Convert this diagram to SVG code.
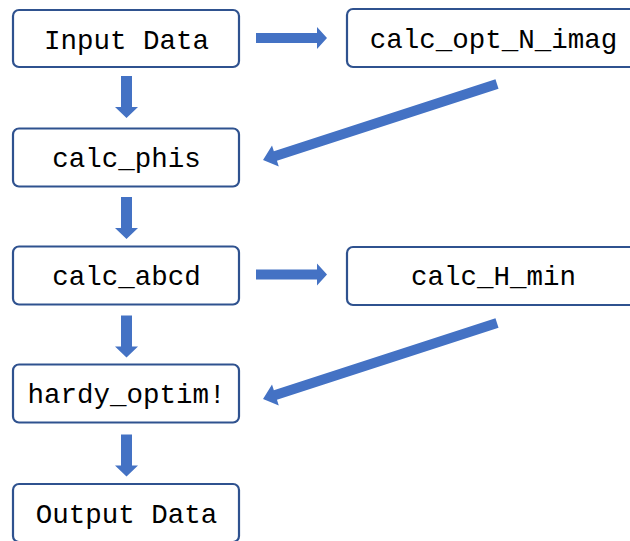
<svg xmlns="http://www.w3.org/2000/svg" width="630" height="541" viewBox="0 0 630 541">
<style>
.box{fill:#ffffff;stroke:#2F528F;stroke-width:2.2}
.lbl{font-family:"Liberation Mono","DejaVu Sans Mono",monospace;font-size:27.5px;fill:#000;text-anchor:middle}
.arr{fill:#4472C4}
</style>
<defs>
<polygon id="harrow" points="0,-5 61,-5 61,-11 71,0 61,11 61,5 0,5"/>
<polygon id="varrow" points="-5.5,0 5.5,0 5.5,31 11.5,31 0,42 -11.5,31 -5.5,31"/>
<polygon id="darrow" points="0,-5 233,-5 233,-11 246,0 233,11 233,5 0,5"/>
</defs>
<rect width="630" height="541" fill="#ffffff"/>
<g id="connectors" class="arr">
<use href="#harrow" x="256" y="38"/>
<use href="#harrow" x="256" y="274.5"/>
<use href="#varrow" x="126.5" y="76"/>
<use href="#varrow" x="126.5" y="197"/>
<use href="#varrow" x="126.5" y="315.5"/>
<use href="#varrow" x="126.5" y="434.5"/>
<use href="#darrow" transform="translate(497,84) rotate(162)"/>
<use href="#darrow" transform="translate(497,323) rotate(162)"/>
</g>
<g id="input-data"><rect class="box" x="13" y="10" width="226" height="57" rx="6"/><text class="lbl" x="126.5" y="49">Input Data</text></g>
<g id="calc-opt-n-imag"><rect class="box" x="347" y="9" width="292" height="58" rx="6"/><text class="lbl" x="493.5" y="48">calc_opt_N_imag</text></g>
<g id="calc-phis"><rect class="box" x="13" y="128.5" width="226" height="58" rx="6"/><text class="lbl" x="126.5" y="167">calc_phis</text></g>
<g id="calc-abcd"><rect class="box" x="13" y="246.5" width="226" height="58" rx="6"/><text class="lbl" x="126.5" y="285">calc_abcd</text></g>
<g id="calc-h-min"><rect class="box" x="347" y="247" width="292" height="58" rx="6"/><text class="lbl" x="493.5" y="285">calc_H_min</text></g>
<g id="hardy-optim"><rect class="box" x="13" y="364.5" width="226" height="58" rx="6"/><text class="lbl" x="126.5" y="403">hardy_optim!</text></g>
<g id="output-data"><rect class="box" x="13" y="484" width="226" height="58" rx="6"/><text class="lbl" x="126.5" y="523">Output Data</text></g>
</svg>
